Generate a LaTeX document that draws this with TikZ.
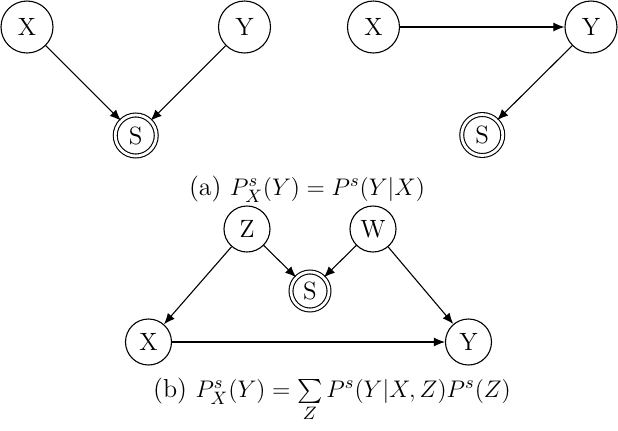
\documentclass[tikz,border=0pt]{standalone}
\usepackage{amsmath}
\usetikzlibrary{positioning,calc,arrows.meta}

\begin{document}
\begin{tikzpicture}[x=0.5pt, y=-0.5pt, auto, >={Latex[length=5.5pt,width=4.5pt]},
    var/.style={circle, draw, line width=0.55pt, inner sep=0pt, minimum size=26pt, font=\fontsize{12.5}{14}\selectfont},
    small/.style={var, minimum size=23pt},
    sel/.style={var, double, double distance=1.4pt, minimum size=20.5pt},
    caption/.style={anchor=base, font=\fontsize{13}{15}\selectfont},
    every path/.style={line width=0.55pt}]
    \useasboundingbox (0,0) rectangle (618,430);

    % (a) left: collider
    \node [var] (xa) at (27,27) {X};
    \node [var, right of=xa, node distance=108.75pt] (ya) {Y};
    \node [sel] (sa) at ($(xa)!0.5!(ya)+(0,108.5)$) {S};

    % (a) right: chain
    \node [var] (xc) at (373.5,27) {X};
    \node [var, right of=xc, node distance=108.75pt] (yc) {Y};
    \node [sel] (sc) at ($(xc)!0.5!(yc)+(0,108)$) {S};

    \node [caption] (capa) at (307,195) {(a) $P^s_X(Y) = P^s(Y|X)$};

    % (b) selection through Z and W
    \node [small] (xb) at (148.5,342) {X};
    \node [small, right of=xb, node distance=160pt] (yb) {Y};
    \node [small] (zb) at (247,229) {Z};
    \node [small, right of=zb, node distance=63pt] (wb) {W};
    \node [sel, minimum size=19pt] (sb) at ($(zb)!0.5!(wb)+(0,62)$) {S};

    \node [caption] (capb) at (332,397) {(b) $P^s_X(Y) = \sum\limits_Z P^s(Y|X,Z)P^s(Z)$};

    \draw [->] (xa) -- (sa);
    \draw [->] (ya) -- (sa);
    \draw [->] (xc) -- (yc);
    \draw [->] (yc) -- (sc);
    \draw [->] (zb) -- (xb);
    \draw [->] (zb) -- (sb);
    \draw [->] (wb) -- (sb);
    \draw [->] (wb) -- (yb);
    \draw [->] (xb) -- (yb);
\end{tikzpicture}
\end{document}
